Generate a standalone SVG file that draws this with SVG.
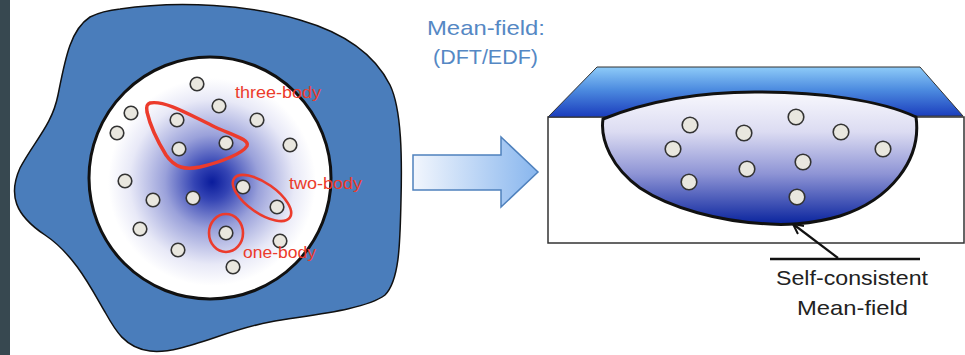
<svg xmlns="http://www.w3.org/2000/svg" width="965" height="355" viewBox="0 0 965 355">
  <defs>
    <radialGradient id="coreGlow" gradientUnits="userSpaceOnUse" cx="212" cy="182" r="118">
      <stop offset="0" stop-color="#0a1c9c"/>
      <stop offset="0.15" stop-color="#3444b4"/>
      <stop offset="0.4" stop-color="#9aa1da"/>
      <stop offset="0.7" stop-color="#e8e9f7"/>
      <stop offset="0.88" stop-color="#ffffff"/>
    </radialGradient>
    <linearGradient id="arrowFill" x1="0" y1="0" x2="1" y2="0">
      <stop offset="0" stop-color="#f2f6fd"/>
      <stop offset="1" stop-color="#88b6ee"/>
    </linearGradient>
    <linearGradient id="slabFill" gradientUnits="userSpaceOnUse" x1="0" y1="67" x2="0" y2="117">
      <stop offset="0" stop-color="#8ecbf8"/>
      <stop offset="0.45" stop-color="#4d8ce0"/>
      <stop offset="1" stop-color="#1a3cbc"/>
    </linearGradient>
    <linearGradient id="wellFill" gradientUnits="userSpaceOnUse" x1="0" y1="92" x2="0" y2="224">
      <stop offset="0" stop-color="#f8f8fd"/>
      <stop offset="0.3" stop-color="#dcdcf2"/>
      <stop offset="0.62" stop-color="#8e94d5"/>
      <stop offset="1" stop-color="#0a249e"/>
    </linearGradient>
    <marker id="openHead" viewBox="0 0 12 12" refX="11" refY="6" markerWidth="12" markerHeight="12" markerUnits="userSpaceOnUse" orient="auto">
      <path d="M1,1 L11,6 L1,11" fill="none" stroke="#111" stroke-width="2"/>
    </marker>
  </defs>
  <style>
    .p { fill: #e9e7df; stroke: #333; stroke-width: 1.6; }
    .cluster { fill: none; stroke: #ec3b2c; }
    .red { fill: #ec3b2c; font-family: "Liberation Sans", Arial, sans-serif; font-size: 17px; }
    .blue { fill: #5588c4; font-family: "Liberation Sans", Arial, sans-serif; font-size: 21px; }
    .dark { fill: #222; font-family: "Liberation Sans", Arial, sans-serif; font-size: 21px; }
  </style>

  <rect width="965" height="355" fill="#ffffff"/>
  <rect x="0" y="0" width="10" height="355" fill="#374850"/>

  <!-- finite nucleus: outer region with correlated core -->
  <g id="nucleus">
    <path d="M 120,9 C 180,0 250,5 300,20 C 345,33 375,55 390,85 C 402,110 402,160 401,200 C 400,240 400,280 385,295 C 365,310 310,315 270,322 C 225,330 180,355 150,351 C 125,348 115,330 105,312 C 92,290 75,255 45,235 C 15,215 8,195 20,168 C 35,140 52,125 58,95 C 65,60 70,30 90,17 C 100,12 110,10 120,9 Z" fill="#4a7dbb" stroke="#111" stroke-width="1.5"/>
    <circle cx="210" cy="178" r="121" fill="url(#coreGlow)" stroke="#111" stroke-width="3"/>
    <g id="nucleons">
      <circle class="p" cx="197" cy="84" r="6.8"/>
      <circle class="p" cx="131" cy="113" r="6.8"/>
      <circle class="p" cx="117" cy="133" r="6.8"/>
      <circle class="p" cx="177" cy="120" r="6.8"/>
      <circle class="p" cx="219" cy="106" r="6.8"/>
      <circle class="p" cx="257" cy="120" r="6.8"/>
      <circle class="p" cx="290" cy="145" r="6.8"/>
      <circle class="p" cx="179" cy="149" r="6.8"/>
      <circle class="p" cx="226" cy="143" r="6.8"/>
      <circle class="p" cx="125" cy="181" r="6.8"/>
      <circle class="p" cx="153" cy="200" r="6.8"/>
      <circle class="p" cx="193" cy="198" r="6.8"/>
      <circle class="p" cx="243" cy="187" r="6.8"/>
      <circle class="p" cx="277" cy="207" r="6.8"/>
      <circle class="p" cx="140" cy="229" r="6.8"/>
      <circle class="p" cx="226" cy="233" r="6.8"/>
      <circle class="p" cx="280" cy="241" r="6.8"/>
      <circle class="p" cx="178" cy="250" r="6.8"/>
      <circle class="p" cx="233" cy="267" r="6.8"/>
    </g>
  </g>

  <g id="three-body">
    <path class="cluster" stroke-width="3.5" d="M 150,103 C 165,100 190,115 215,127 C 235,136 250,140 247,146 C 243,153 222,162 200,167 C 185,170 175,168 166,155 C 158,142 150,125 147,112 C 146,106 147,104 150,103 Z"/>
    <text class="red" x="235" y="98" textLength="86" lengthAdjust="spacingAndGlyphs">three-body</text>
  </g>
  <g id="two-body">
    <ellipse class="cluster" stroke-width="2.6" cx="262" cy="198" rx="34" ry="15" transform="rotate(35 262 198)"/>
    <text class="red" x="289" y="189" textLength="73" lengthAdjust="spacingAndGlyphs">two-body</text>
  </g>
  <g id="one-body">
    <ellipse class="cluster" stroke-width="2.6" cx="226" cy="233" rx="17" ry="19"/>
    <text class="red" x="243" y="258" textLength="73" lengthAdjust="spacingAndGlyphs">one-body</text>
  </g>

  <!-- transition arrow -->
  <g id="transition">
    <text class="blue" x="427" y="35" textLength="118" lengthAdjust="spacingAndGlyphs">Mean-field:</text>
    <text class="blue" x="433" y="64" textLength="105" lengthAdjust="spacingAndGlyphs">(DFT/EDF)</text>
    <path d="M 413,155 L 501,155 L 501,137 L 538,172 L 501,207 L 501,190 L 413,190 Z" fill="url(#arrowFill)" stroke="#4f81bd" stroke-width="1.5"/>
  </g>

  <!-- mean-field well -->
  <g id="mean-field">
    <rect x="548" y="117" width="416" height="126" fill="#ffffff" stroke="#333" stroke-width="1.5"/>
    <path d="M 548,117 L 597,67 L 920,67 L 963,116 Z" fill="url(#slabFill)" stroke="#333" stroke-width="1"/>
    <path d="M 603,119 C 650,100 700,92 755,92 C 820,92 880,100 916,117 C 922,160 890,200 840,216 C 810,225 780,225 770,224 C 720,222 670,208 640,188 C 612,168 600,140 603,119 Z" fill="url(#wellFill)" stroke="#111" stroke-width="3"/>
    <circle class="p" cx="690" cy="125" r="7.8"/>
    <circle class="p" cx="744" cy="133" r="7.8"/>
    <circle class="p" cx="796" cy="117" r="7.8"/>
    <circle class="p" cx="841" cy="132" r="7.8"/>
    <circle class="p" cx="883" cy="149" r="7.8"/>
    <circle class="p" cx="673" cy="149" r="7.8"/>
    <circle class="p" cx="747" cy="169" r="7.8"/>
    <circle class="p" cx="803" cy="162" r="7.8"/>
    <circle class="p" cx="689" cy="182" r="7.8"/>
    <circle class="p" cx="797" cy="197" r="7.8"/>
  </g>

  <g id="connectors">
    <line x1="838" y1="258" x2="793" y2="224" stroke="#111" stroke-width="2.2" marker-end="url(#openHead)"/>
    <line x1="770" y1="259" x2="920" y2="259" stroke="#111" stroke-width="2.5"/>
  </g>

  <g id="label">
    <text class="dark" x="776" y="285" textLength="152" lengthAdjust="spacingAndGlyphs">Self-consistent</text>
    <text class="dark" x="797" y="315" textLength="111" lengthAdjust="spacingAndGlyphs">Mean-field</text>
  </g>
</svg>
